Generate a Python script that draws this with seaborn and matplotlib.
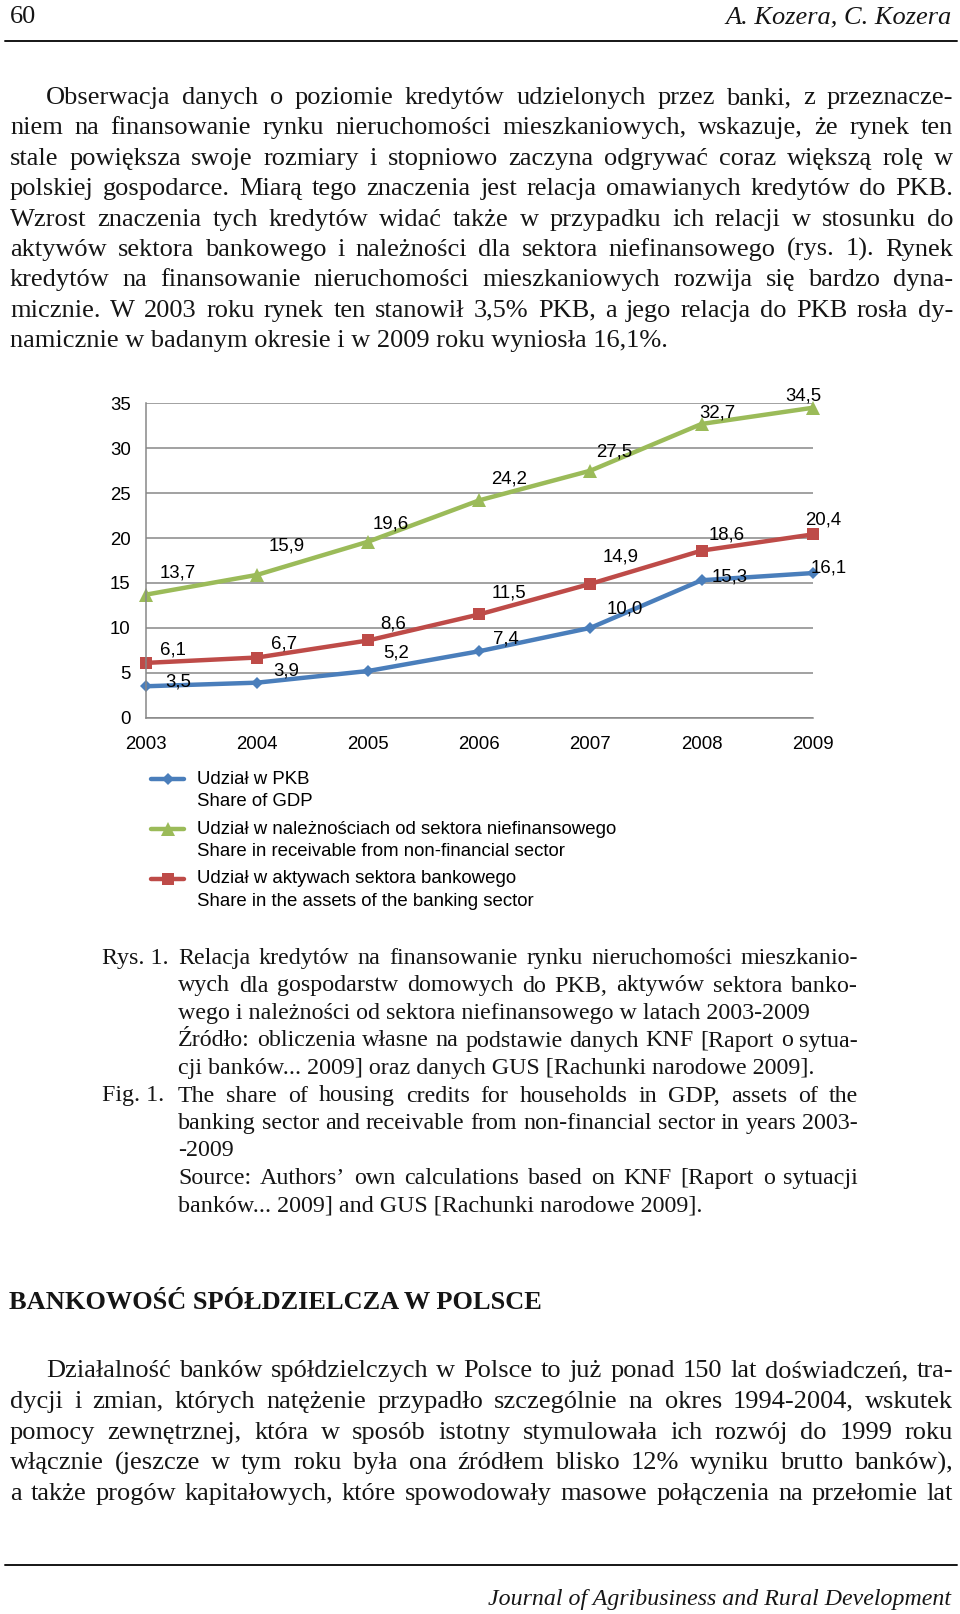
import matplotlib
matplotlib.use('Agg')
import matplotlib.pyplot as plt
import seaborn as sns
import pandas as pd

# --- data ---
years = [2003, 2004, 2005, 2006, 2007, 2008, 2009]
share_gdp = [3.5, 3.9, 5.2, 7.4, 10.0, 15.3, 16.1]
share_nonfin = [13.7, 15.9, 19.6, 24.2, 27.5, 32.7, 34.5]
share_bank = [6.1, 6.7, 8.6, 11.5, 14.9, 18.6, 20.4]
series_keys = ['gdp', 'nonfin', 'bank']
legend_pl = ['Udział w PKB',
             'Udział w należnościach od sektora niefinansowego',
             'Udział w aktywach sektora bankowego']
legend_en = ['Share of GDP',
             'Share in receivable from non-financial sector',
             'Share in the assets of the banking sector']
y_ticks = [0, 5, 10, 15, 20, 25, 30, 35]

# --- styles ---
colors = {'gdp': '#4a7ebb', 'nonfin': '#9bbb59', 'bank': '#be4b48'}
markers = {'gdp': 'D', 'nonfin': '^', 'bank': 's'}
msizes = {'gdp': 6.5, 'nonfin': 10, 'bank': 8.5}
# data label offsets (pixels, right / up) per point
label_off = {
    'gdp': [(32, 4), (29, 12), (28, 18), (27, 12), (34, 19), (28, 3), (16, 5)],
    'nonfin': [(32, 22), (30, 29), (23, 18), (30, 21), (24, 19), (16, 11), (-9, 12)],
    'bank': [(27, 13), (27, 14), (25, 16), (30, 21), (30, 27), (25, 16), (11, 14)],
}

W, H = 960, 1614
sns.set_theme(style='white')
plt.rcParams['font.family'] = ['Liberation Sans', 'DejaVu Sans']
serif = ['Liberation Serif', 'DejaVu Serif']
INK = '#151515'
CHART_FS = 13.4

fig = plt.figure(figsize=(W / 100, H / 100), dpi=100)
fig.patch.set_facecolor('white')

# page layer in pixel coordinates
page = fig.add_axes([0, 0, 1, 1])
page.set_xlim(0, W)
page.set_ylim(H, 0)
page.axis('off')
page.patch.set_alpha(0)

renderer = fig.canvas.get_renderer()


def put_line(text, x0, x1, y, justify=True, **kw):
    words = text.split()
    if not justify or len(words) < 2:
        page.text(x0, y, text, ha='left', va='baseline', **kw)
        return
    arts = [page.text(0, y, w, ha='left', va='baseline', **kw) for w in words]
    widths = [a.get_window_extent(renderer).width for a in arts]
    gap = (x1 - x0 - sum(widths)) / (len(words) - 1)
    x = x0
    for a, w in zip(arts, widths):
        a.set_x(x)
        x += w + gap


body = dict(family=serif, fontsize=19, color=INK)

# header
page.text(10, 23, '60', ha='left', va='baseline', **body)
page.text(952, 23, 'A. Kozera, C. Kozera', ha='right', va='baseline', style='italic', **body)
page.plot([5, 957], [41, 41], color=INK, lw=1.4)

para1 = [
    ('Obserwacja danych o poziomie kredytów udzielonych przez banki, z przeznacze-', True),
    ('niem na finansowanie rynku nieruchomości mieszkaniowych, wskazuje, że rynek ten', True),
    ('stale powiększa swoje rozmiary i stopniowo zaczyna odgrywać coraz większą rolę w', True),
    ('polskiej gospodarce. Miarą tego znaczenia jest relacja omawianych kredytów do PKB.', True),
    ('Wzrost znaczenia tych kredytów widać także w przypadku ich relacji w stosunku do', True),
    ('aktywów sektora bankowego i należności dla sektora niefinansowego (rys. 1). Rynek', True),
    ('kredytów na finansowanie nieruchomości mieszkaniowych rozwija się bardzo dyna-', True),
    ('micznie. W 2003 roku rynek ten stanowił 3,5% PKB, a jego relacja do PKB rosła dy-', True),
    ('namicznie w badanym okresie i w 2009 roku wyniosła 16,1%.', False),
]
for i, (txt, just) in enumerate(para1):
    put_line(txt, 46 if i == 0 else 10, 953, 104 + 30.4 * i, just, **body)

# --- chart ---
ax = fig.add_axes([146 / W, 1 - 717.7 / H, (812.6 - 146) / W, (717.7 - 403.3) / H])
df = pd.DataFrame({
    'year': years * 3,
    'value': share_gdp + share_nonfin + share_bank,
    'series': [k for k in series_keys for _ in years],
})
sns.lineplot(data=df, x='year', y='value', hue='series', style='series',
             palette=colors, markers=markers, dashes=False, legend=False,
             lw=3.2, markeredgewidth=0, clip_on=False, ax=ax)
for line, k in zip(ax.lines, series_keys):
    line.set_markersize(msizes[k])

values = {'gdp': share_gdp, 'nonfin': share_nonfin, 'bank': share_bank}
for k in series_keys:
    for yr, v, (dx, dy) in zip(years, values[k], label_off[k]):
        ax.annotate(f'{v:.1f}'.replace('.', ','), (yr, v), xytext=(dx, dy),
                    textcoords='offset pixels', ha='center', va='center',
                    fontsize=CHART_FS, color='black')

ax.set_xlim(2003, 2009)
ax.set_ylim(0, 35)
ax.set_xticks(years)
ax.set_yticks(y_ticks)
ax.set_xlabel('')
ax.set_ylabel('')
ax.yaxis.grid(True, color='#878787', lw=1.1)
ax.set_axisbelow(True)
for s in ['top', 'right']:
    ax.spines[s].set_visible(False)
for s in ['left', 'bottom']:
    ax.spines[s].set_color('#878787')
    ax.spines[s].set_linewidth(1.1)
ax.tick_params(axis='both', direction='out', length=4, width=1.1, color='#878787',
               labelsize=CHART_FS, labelcolor='black')
ax.tick_params(axis='y', pad=7)
ax.tick_params(axis='x', pad=9)
ax.patch.set_alpha(0)

# legend (two-line entries)
leg_y = [779, 829, 878.5]
for k, pl, en, y in zip(series_keys, legend_pl, legend_en, leg_y):
    page.plot([151, 167.5, 184], [y, y, y], color=colors[k], lw=3.2,
              marker=markers[k], markevery=[1], markersize=msizes[k], markeredgewidth=0)
    page.text(197, y, pl, ha='left', va='center', fontsize=CHART_FS, color='black')
    page.text(197, y + 22.5, en, ha='left', va='center', fontsize=CHART_FS, color='black')

# caption
cap = dict(family=serif, fontsize=17.3, color=INK)
caption = [
    ('Rys. 1.', 'Relacja kredytów na finansowanie rynku nieruchomości mieszkanio-', True),
    ('', 'wych dla gospodarstw domowych do PKB, aktywów sektora banko-', True),
    ('', 'wego i należności od sektora niefinansowego w latach 2003-2009', False),
    ('', 'Źródło: obliczenia własne na podstawie danych KNF [Raport o sytua-', True),
    ('', 'cji banków... 2009] oraz danych GUS [Rachunki narodowe 2009].', False),
    ('Fig. 1.', 'The share of housing credits for households in GDP, assets of the', True),
    ('', 'banking sector and receivable from non-financial sector in years 2003-', True),
    ('', '-2009', False),
    ('', 'Source: Authors’ own calculations based on KNF [Raport o sytuacji', True),
    ('', 'banków... 2009] and GUS [Rachunki narodowe 2009].', False),
]
for i, (tag, txt, just) in enumerate(caption):
    y = 964 + 27.5 * i
    if tag:
        page.text(102, y, tag, ha='left', va='baseline', **cap)
    put_line(txt, 178, 858, y, just, **cap)

# section heading
page.text(9, 1309, 'BANKOWOŚĆ SPÓŁDZIELCZA W POLSCE', ha='left', va='baseline',
          weight='bold', **body)

para2 = [
    'Działalność banków spółdzielczych w Polsce to już ponad 150 lat doświadczeń, tra-',
    'dycji i zmian, których natężenie przypadło szczególnie na okres 1994-2004, wskutek',
    'pomocy zewnętrznej, która w sposób istotny stymulowała ich rozwój do 1999 roku',
    'włącznie (jeszcze w tym roku była ona źródłem blisko 12% wyniku brutto banków),',
    'a także progów kapitałowych, które spowodowały masowe połączenia na przełomie lat',
]
for i, txt in enumerate(para2):
    put_line(txt, 46 if i == 0 else 10, 953, 1377 + 30.8 * i, True, **body)

# footer
page.plot([5, 957], [1565, 1565], color=INK, lw=1.4)
page.text(951, 1605, 'Journal of Agribusiness and Rural Development', ha='right',
          va='baseline', style='italic', family=serif, fontsize=17.2, color=INK)

fig.savefig('out.png', dpi=100, facecolor='white')
